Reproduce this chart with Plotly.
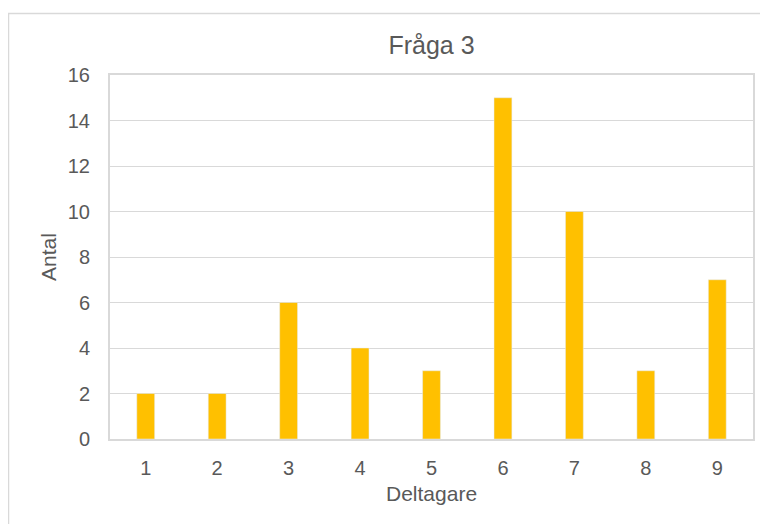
import plotly.graph_objects as go

categories = ["1", "2", "3", "4", "5", "6", "7", "8", "9"]
values = [2, 2, 6, 4, 3, 15, 10, 3, 7]
y_ticks = [0, 2, 4, 6, 8, 10, 12, 14, 16]

W, H = 760, 516
L, R, T, B = 102, 15, 67, 85
PW, PH = W - L - R, H - T - B

fig = go.Figure(go.Bar(x=categories, y=values, marker_color="#FFC000", width=0.25))

font = "Liberation Sans, Arial, sans-serif"
grey = "#595959"
fig.update_layout(
    width=W, height=H,
    margin=dict(l=L, r=R, t=T, b=B),
    paper_bgcolor="white", plot_bgcolor="white",
    font=dict(family=font, color=grey, size=20),
    title=dict(text="Fråga 3", x=0.5, xanchor="center", xref="paper",
               y=1 - 37 / H, yanchor="middle", yref="container",
               font=dict(size=25, color=grey)),
    showlegend=False,
)
fig.update_xaxes(
    type="category", showline=True, linecolor="#D9D9D9", linewidth=2, mirror=True,
    ticks="", tickfont=dict(size=20), ticklabelstandoff=10,
)
fig.update_yaxes(
    range=[0, 16], tickvals=y_ticks, showgrid=True, gridcolor="#D9D9D9", gridwidth=1,
    showline=True, linecolor="#D9D9D9", linewidth=2, mirror=True, zeroline=False,
    ticks="", tickfont=dict(size=20), ticklabelstandoff=14,
)
fig.add_annotation(text="Deltagare", xref="paper", yref="paper", x=0.5,
                   y=(PH - (486 - T)) / PH, xanchor="center", yanchor="middle",
                   showarrow=False, font=dict(size=21, color=grey))
fig.add_annotation(text="Antal", xref="paper", yref="paper", x=(40 - L) / PW,
                   y=0.5, xanchor="center", yanchor="middle", textangle=-90,
                   showarrow=False, font=dict(size=21, color=grey))
fig.add_shape(type="rect", xref="paper", yref="paper",
              x0=(0.5 - L) / PW, x1=1.1, y0=-0.4, y1=(PH + T - 5.5) / PH,
              line=dict(color="#D9D9D9", width=1.5), layer="below")
fig.write_html("out.html")
